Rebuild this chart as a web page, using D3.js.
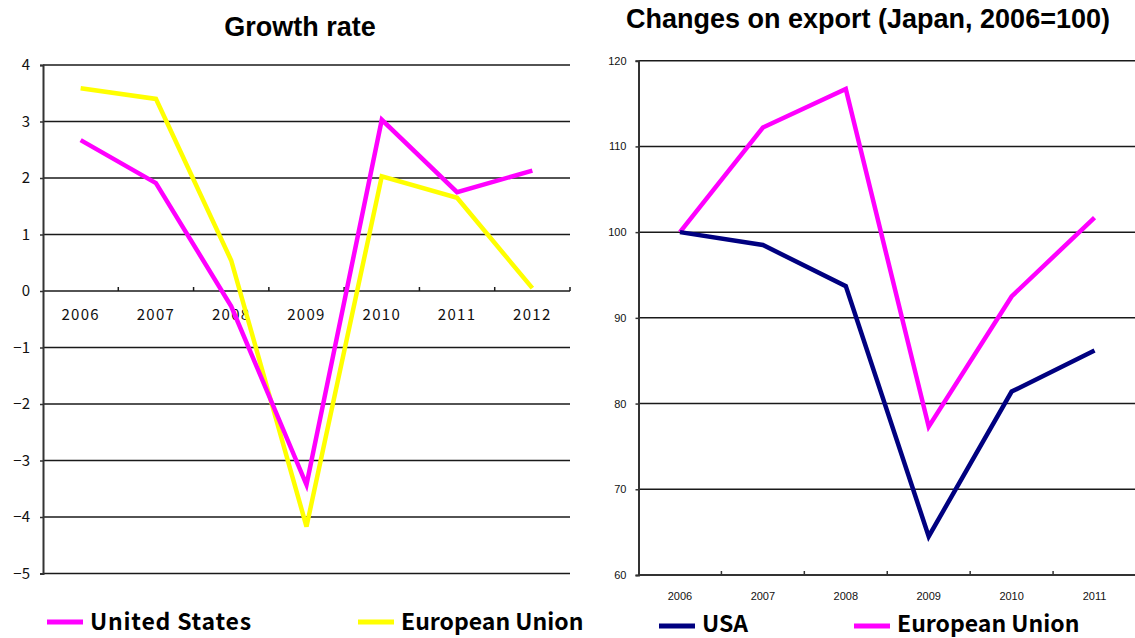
<!DOCTYPE html>
<html>
<head>
<meta charset="utf-8">
<script src="https://cdn.jsdelivr.net/npm/d3@7/dist/d3.min.js"></script>
<style>
  html, body { margin: 0; padding: 0; background: #fff; }
  svg { display: block; }
  .title { font-family: "Liberation Sans", Arial, sans-serif; font-weight: bold; font-size: 27px; fill: #000; }
  .tick-l { font-family: "Noto Sans CJK JP", "DejaVu Sans", sans-serif; font-size: 15px; letter-spacing: 1.3px; fill: #111; }
  .tick-r { font-family: "Liberation Sans", Arial, sans-serif; font-size: 11px; fill: #111; }
  .legend { font-family: "Noto Sans CJK JP", "DejaVu Sans", sans-serif; font-weight: bold; font-size: 23px; fill: #000; }
</style>
</head>
<body>
<svg id="chart" width="1135" height="638"></svg>
<script>
// Growth rate (% per year)
const growthYears = ["2006", "2007", "2008", "2009", "2010", "2011", "2012"];
const growthUS = [2.67, 1.91, -0.27, -3.43, 3.03, 1.75, 2.13];
const growthEU = [3.59, 3.40, 0.54, -4.17, 2.03, 1.65, 0.05];
const growthTicks = [4, 3, 2, 1, 0, -1, -2, -3, -4, -5];

// Japanese exports, index 2006 = 100
const exportYears = ["2006", "2007", "2008", "2009", "2010", "2011"];
const exportUSA = [100, 98.5, 93.7, 64.5, 81.4, 86.2];
const exportEU = [100, 112.2, 116.7, 77.3, 92.5, 101.7];
const exportTicks = [120, 110, 100, 90, 80, 70, 60];

const MAGENTA = "#ff00ff", YELLOW = "#ffff00", NAVY = "#000080";
const svg = d3.select("#chart");

// ---------- Left panel: Growth rate ----------
{
  const x0 = 43, x1 = 570, yTop = 65, yBot = 573.5;
  const x = d3.scaleBand().domain(growthYears).range([x0, x1]);
  const y = d3.scaleLinear().domain([-5, 4]).range([yBot, yTop]);
  const g = svg.append("g");

  g.append("text").attr("class", "title").attr("x", 300).attr("y", 36)
    .attr("text-anchor", "middle").text("Growth rate");

  // horizontal grid lines
  g.selectAll("line.grid").data(growthTicks).join("line")
    .attr("x1", x0).attr("x2", x1)
    .attr("y1", d => y(d)).attr("y2", d => y(d))
    .attr("stroke", "#1a1a1a").attr("stroke-width", 1.5);

  // y axis
  const yAxis = d3.axisLeft(y).tickValues(growthTicks).tickSize(3).tickPadding(10)
    .tickFormat(d => d < 0 ? "\u2212" + Math.abs(d) : d);
  const ya = g.append("g").attr("transform", `translate(${x0},0)`).call(yAxis);
  ya.select(".domain").attr("stroke", "#333").attr("stroke-width", 2);
  ya.selectAll(".tick line").attr("stroke", "#333").attr("stroke-width", 1.5);
  ya.selectAll("text").attr("class", "tick-l").attr("font-size", null).attr("font-family", null)
    .style("letter-spacing", "0px");

  // category axis on the zero line
  const edges = growthYears.map(d => x(d)).concat([x1]).slice(1);
  g.selectAll("line.xt").data(edges).join("line")
    .attr("x1", d => d).attr("x2", d => d)
    .attr("y1", y(0) - 4).attr("y2", y(0))
    .attr("stroke", "#1a1a1a").attr("stroke-width", 1.5);
  g.selectAll("text.xl").data(growthYears).join("text")
    .attr("class", "tick-l")
    .attr("x", d => x(d) + x.bandwidth() / 2).attr("y", 320)
    .attr("text-anchor", "middle").text(d => d);

  const line = d3.line().x((d, i) => x(growthYears[i]) + x.bandwidth() / 2).y(d => y(d));
  g.append("path").datum(growthEU).attr("d", line)
    .attr("fill", "none").attr("stroke", YELLOW).attr("stroke-width", 4.5);
  g.append("path").datum(growthUS).attr("d", line)
    .attr("fill", "none").attr("stroke", MAGENTA).attr("stroke-width", 4.5);

  // legend
  const leg = [
    { name: "United States", color: MAGENTA, lx: 47, tx: 90, ls: 0.8 },
    { name: "European Union", color: YELLOW, lx: 358, tx: 401, ls: 0 }
  ];
  leg.forEach(l => {
    g.append("line").attr("x1", l.lx).attr("x2", l.lx + 36).attr("y1", 622).attr("y2", 622)
      .attr("stroke", l.color).attr("stroke-width", 5);
    g.append("text").attr("class", "legend").attr("x", l.tx).attr("y", 630)
      .style("letter-spacing", l.ls + "px").text(l.name);
  });
}

// ---------- Right panel: Changes on export ----------
{
  const x0 = 638.5, x1 = 1136, yTop = 60.7, yBot = 575;
  const x = d3.scaleBand().domain(exportYears).range([x0, x1]);
  const y = d3.scaleLinear().domain([60, 120]).range([yBot, yTop]);
  const g = svg.append("g");

  g.append("text").attr("class", "title").attr("x", 868).attr("y", 28)
    .attr("text-anchor", "middle").text("Changes on export (Japan, 2006=100)");

  g.selectAll("line.grid").data(exportTicks).join("line")
    .attr("x1", x0).attr("x2", x1)
    .attr("y1", d => y(d)).attr("y2", d => y(d))
    .attr("stroke", "#1a1a1a").attr("stroke-width", 1.5);

  const yAxis = d3.axisLeft(y).tickValues(exportTicks).tickSize(3).tickPadding(9);
  const ya = g.append("g").attr("transform", `translate(${x0},0)`).call(yAxis);
  ya.select(".domain").attr("stroke", "#333").attr("stroke-width", 2);
  ya.selectAll(".tick line").attr("stroke", "#333").attr("stroke-width", 1.5);
  ya.selectAll("text").attr("class", "tick-r").attr("font-size", null).attr("font-family", null);

  // bottom axis line with inward tick marks between categories
  g.append("line").attr("x1", x0).attr("x2", x1).attr("y1", yBot).attr("y2", yBot)
    .attr("stroke", "#333").attr("stroke-width", 2);
  const edges = exportYears.map(d => x(d)).slice(1);
  g.selectAll("line.xt").data(edges).join("line")
    .attr("x1", d => d).attr("x2", d => d)
    .attr("y1", yBot - 4).attr("y2", yBot)
    .attr("stroke", "#333").attr("stroke-width", 1.5);
  g.selectAll("text.xl").data(exportYears).join("text")
    .attr("class", "tick-r")
    .attr("x", d => x(d) + x.bandwidth() / 2).attr("y", 600)
    .attr("text-anchor", "middle").text(d => d);

  const line = d3.line().x((d, i) => x(exportYears[i]) + x.bandwidth() / 2).y(d => y(d));
  g.append("path").datum(exportEU).attr("d", line)
    .attr("fill", "none").attr("stroke", MAGENTA).attr("stroke-width", 4.5);
  g.append("path").datum(exportUSA).attr("d", line)
    .attr("fill", "none").attr("stroke", NAVY).attr("stroke-width", 4.5);

  const leg = [
    { name: "USA", color: NAVY, lx: 659, tx: 702 },
    { name: "European Union", color: MAGENTA, lx: 854, tx: 897 }
  ];
  leg.forEach(l => {
    g.append("line").attr("x1", l.lx).attr("x2", l.lx + 36).attr("y1", 626).attr("y2", 626)
      .attr("stroke", l.color).attr("stroke-width", 5);
    g.append("text").attr("class", "legend").attr("x", l.tx).attr("y", 632).text(l.name);
  });
}
</script>
</body>
</html>
